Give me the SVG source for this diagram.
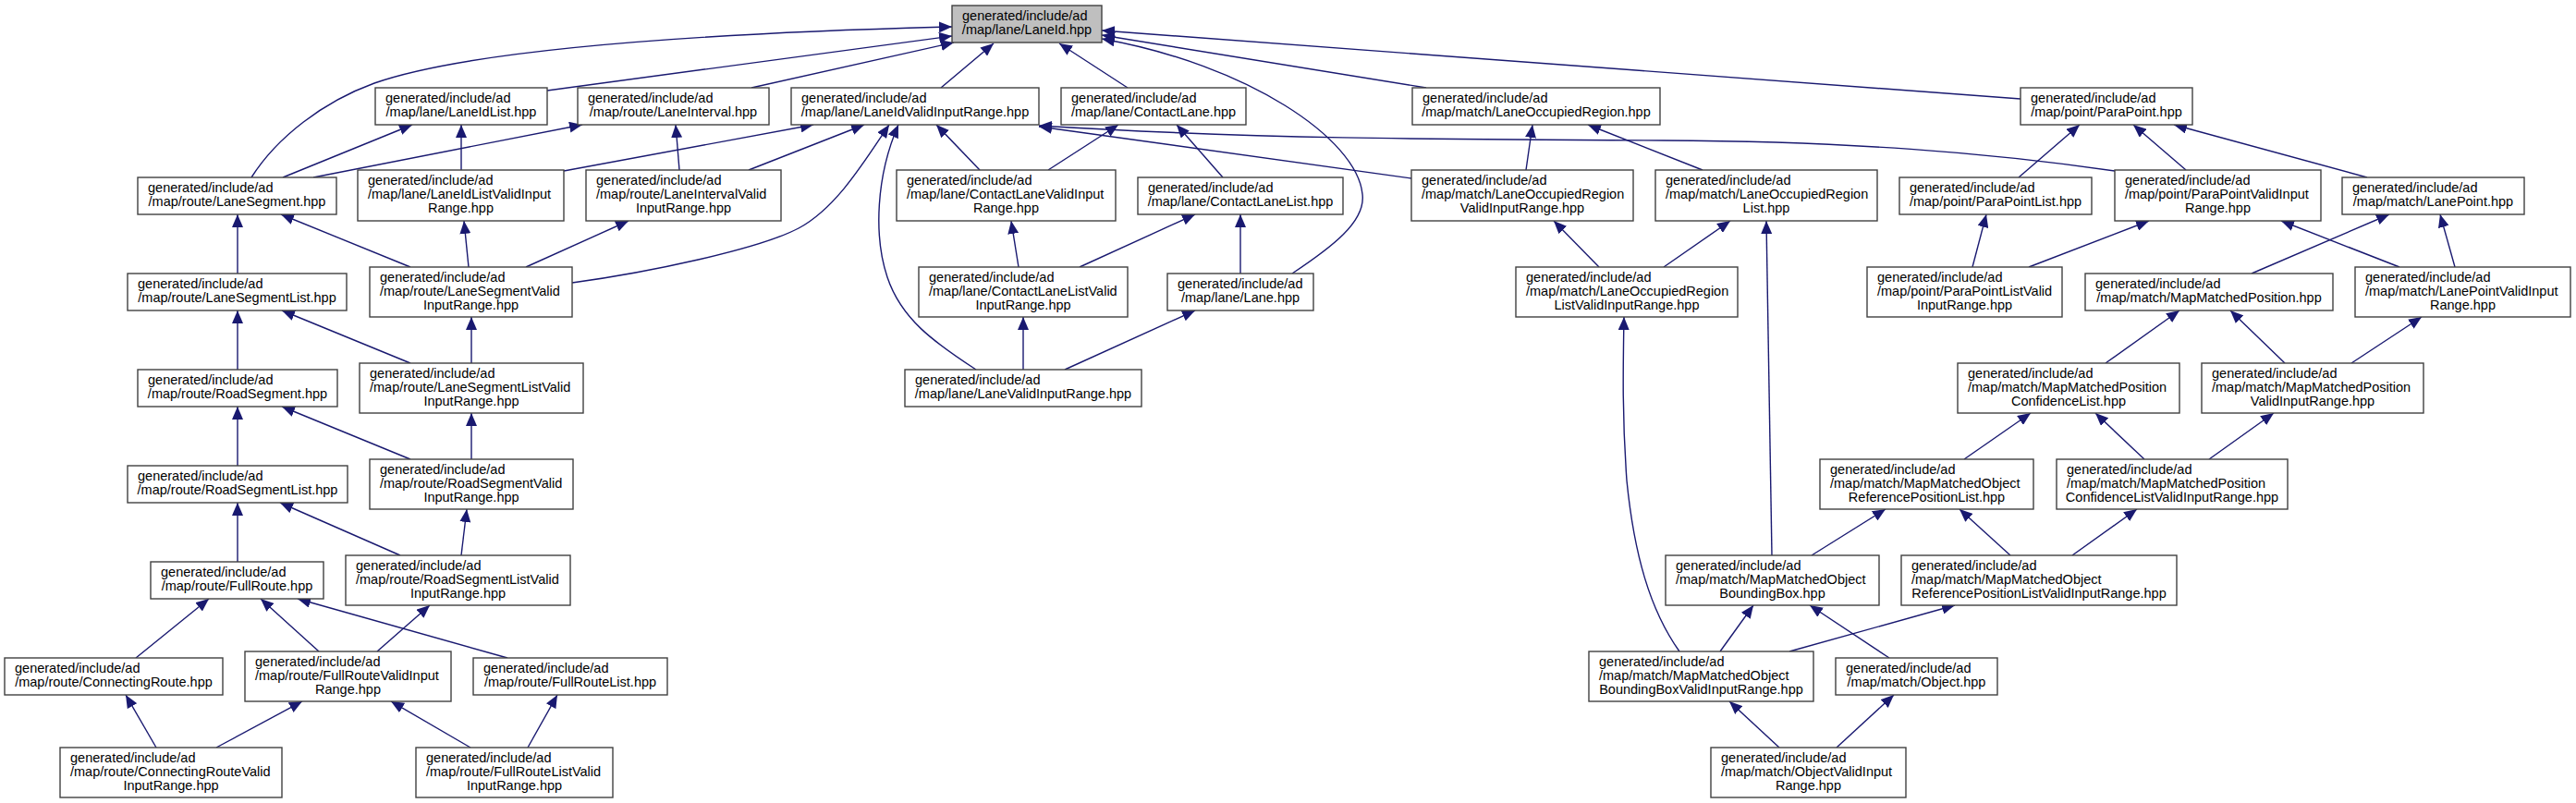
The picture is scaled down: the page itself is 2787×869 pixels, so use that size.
<svg xmlns="http://www.w3.org/2000/svg" width="2787" height="869" viewBox="0 0 2787 869">
<style>
.node rect{fill:#fff;stroke:#404040;stroke-width:1.4}
.main rect{fill:#bfbfbf}
text{font-family:"Liberation Sans",Arial,sans-serif;font-size:14.5px;fill:#000}
.c{text-anchor:middle}
.e{fill:none;stroke:#191970;stroke-width:1.4;marker-end:url(#arr)}
</style>
<defs>
<marker id="arr" markerUnits="userSpaceOnUse" markerWidth="14" markerHeight="12" refX="14" refY="6" orient="auto">
<path d="M0,0 L14,6 L0,12 z" fill="#191970"/>
</marker>
</defs>
<rect width="2787" height="869" fill="#fff"/>
<g id="edges">
<path class="e" d="M272,192 C300,148 350,110 405,90 C520,50 800,35 1030,29"/>
<path class="e" d="M592,98 L1030,39"/>
<path class="e" d="M813,95 L1032,46"/>
<path class="e" d="M1018,95 L1075,47"/>
<path class="e" d="M1220,95 L1146,47"/>
<path class="e" d="M1543,95 L1192,38"/>
<path class="e" d="M2186,107 L1192,33"/>
<path class="e" d="M1398,296 C1440,268 1478,240 1474,210 C1468,150 1350,70 1192,42"/>
<path class="e" d="M306,192 L446,135"/>
<path class="e" d="M499,184 L499,135"/>
<path class="e" d="M339,192 L630,135"/>
<path class="e" d="M735,184 L731,135"/>
<path class="e" d="M610,185 L880,135"/>
<path class="e" d="M810,184 L935,135"/>
<path class="e" d="M619,306 C700,295 820,270 864,247 C905,225 935,175 962,135"/>
<path class="e" d="M1056,400 C1010,370 975,345 960,300 C945,255 948,190 972,135"/>
<path class="e" d="M1060,184 L1013,135"/>
<path class="e" d="M2288,185 C2150,165 2000,153 1800,152 C1550,151 1350,150 1124,136"/>
<path class="e" d="M1527,193 L1124,137"/>
<path class="e" d="M1134,184 L1210,135"/>
<path class="e" d="M1323,192 L1273,135"/>
<path class="e" d="M1651,184 L1658,135"/>
<path class="e" d="M1842,184 L1718,135"/>
<path class="e" d="M2184,192 L2250,135"/>
<path class="e" d="M2365,184 L2308,135"/>
<path class="e" d="M2561,192 L2352,135"/>
<path class="e" d="M257,296 L257,232"/>
<path class="e" d="M444,289 L304,232"/>
<path class="e" d="M507,289 L502,239"/>
<path class="e" d="M569,289 L680,239"/>
<path class="e" d="M1102,289 L1094,239"/>
<path class="e" d="M1168,289 L1293,232"/>
<path class="e" d="M1342,296 L1342,232"/>
<path class="e" d="M1730,289 L1681,239"/>
<path class="e" d="M1800,289 L1872,239"/>
<path class="e" d="M1917,601 L1911,239"/>
<path class="e" d="M2134,289 L2149,232"/>
<path class="e" d="M2195,289 L2325,239"/>
<path class="e" d="M2596,289 L2468,239"/>
<path class="e" d="M2436,296 L2585,232"/>
<path class="e" d="M2656,289 L2640,232"/>
<path class="e" d="M257,400 L257,336"/>
<path class="e" d="M444,393 L305,336"/>
<path class="e" d="M510,393 L510,343"/>
<path class="e" d="M1107,400 L1107,343"/>
<path class="e" d="M1152,400 L1293,336"/>
<path class="e" d="M1817,705 C1785,660 1768,600 1760,520 C1755,450 1756,400 1757,343"/>
<path class="e" d="M2278,393 L2358,336"/>
<path class="e" d="M2472,393 L2413,336"/>
<path class="e" d="M2544,393 L2620,343"/>
<path class="e" d="M257,504 L257,440"/>
<path class="e" d="M444,497 L305,440"/>
<path class="e" d="M510,497 L510,447"/>
<path class="e" d="M2125,497 L2197,447"/>
<path class="e" d="M2320,497 L2267,447"/>
<path class="e" d="M2390,497 L2460,447"/>
<path class="e" d="M257,608 L257,544"/>
<path class="e" d="M433,601 L303,544"/>
<path class="e" d="M499,601 L505,551"/>
<path class="e" d="M1960,601 L2040,551"/>
<path class="e" d="M2175,601 L2120,551"/>
<path class="e" d="M2242,601 L2312,551"/>
<path class="e" d="M147,712 L226,648"/>
<path class="e" d="M345,705 L282,648"/>
<path class="e" d="M549,712 L322,648"/>
<path class="e" d="M408,705 L465,655"/>
<path class="e" d="M1861,705 L1897,655"/>
<path class="e" d="M2044,712 L1958,655"/>
<path class="e" d="M1936,705 L2115,655"/>
<path class="e" d="M169,809 L136,752"/>
<path class="e" d="M234,809 L327,759"/>
<path class="e" d="M509,809 L423,759"/>
<path class="e" d="M571,809 L603,752"/>
<path class="e" d="M1925,809 L1871,759"/>
<path class="e" d="M1987,809 L2049,752"/>
</g>
<g id="n_LaneId" class="node main"><rect x="1030" y="6" width="162" height="40"/><text x="1041" y="22">generated/include/ad</text><text class="c" x="1111" y="37">/map/lane/LaneId.hpp</text></g>
<g id="n_LaneIdList" class="node"><rect x="406" y="95" width="186" height="40"/><text x="417" y="111">generated/include/ad</text><text class="c" x="499" y="126">/map/lane/LaneIdList.hpp</text></g>
<g id="n_LaneInterval" class="node"><rect x="625" y="95" width="207" height="40"/><text x="636" y="111">generated/include/ad</text><text class="c" x="728.5" y="126">/map/route/LaneInterval.hpp</text></g>
<g id="n_LaneIdValidInputRange" class="node"><rect x="856" y="95" width="268" height="40"/><text x="867" y="111">generated/include/ad</text><text class="c" x="990" y="126">/map/lane/LaneIdValidInputRange.hpp</text></g>
<g id="n_ContactLane" class="node"><rect x="1148" y="95" width="200" height="40"/><text x="1159" y="111">generated/include/ad</text><text class="c" x="1248" y="126">/map/lane/ContactLane.hpp</text></g>
<g id="n_LaneOccupiedRegion" class="node"><rect x="1528" y="95" width="268" height="40"/><text x="1539" y="111">generated/include/ad</text><text class="c" x="1662" y="126">/map/match/LaneOccupiedRegion.hpp</text></g>
<g id="n_ParaPoint" class="node"><rect x="2186" y="95" width="186" height="40"/><text x="2197" y="111">generated/include/ad</text><text class="c" x="2279" y="126">/map/point/ParaPoint.hpp</text></g>
<g id="n_LaneSegment" class="node"><rect x="149" y="192" width="215" height="40"/><text x="160" y="208">generated/include/ad</text><text class="c" x="256.5" y="223">/map/route/LaneSegment.hpp</text></g>
<g id="n_LaneIdListValidInputRange" class="node"><rect x="387" y="184" width="223" height="55"/><text x="398" y="200">generated/include/ad</text><text x="398" y="215">/map/lane/LaneIdListValidInput</text><text class="c" x="498.5" y="230">Range.hpp</text></g>
<g id="n_LaneIntervalValidInputRange" class="node"><rect x="634" y="184" width="211" height="55"/><text x="645" y="200">generated/include/ad</text><text x="645" y="215">/map/route/LaneIntervalValid</text><text class="c" x="739.5" y="230">InputRange.hpp</text></g>
<g id="n_ContactLaneValidInputRange" class="node"><rect x="970" y="184" width="237" height="55"/><text x="981" y="200">generated/include/ad</text><text x="981" y="215">/map/lane/ContactLaneValidInput</text><text class="c" x="1088.5" y="230">Range.hpp</text></g>
<g id="n_ContactLaneList" class="node"><rect x="1231" y="192" width="222" height="40"/><text x="1242" y="208">generated/include/ad</text><text class="c" x="1342" y="223">/map/lane/ContactLaneList.hpp</text></g>
<g id="n_LaneOccupiedRegionValidInputRange" class="node"><rect x="1527" y="184" width="240" height="55"/><text x="1538" y="200">generated/include/ad</text><text x="1538" y="215">/map/match/LaneOccupiedRegion</text><text class="c" x="1647" y="230">ValidInputRange.hpp</text></g>
<g id="n_LaneOccupiedRegionList" class="node"><rect x="1791" y="184" width="240" height="55"/><text x="1802" y="200">generated/include/ad</text><text x="1802" y="215">/map/match/LaneOccupiedRegion</text><text class="c" x="1911" y="230">List.hpp</text></g>
<g id="n_ParaPointList" class="node"><rect x="2055" y="192" width="208" height="40"/><text x="2066" y="208">generated/include/ad</text><text class="c" x="2159" y="223">/map/point/ParaPointList.hpp</text></g>
<g id="n_ParaPointValidInputRange" class="node"><rect x="2288" y="184" width="223" height="55"/><text x="2299" y="200">generated/include/ad</text><text x="2299" y="215">/map/point/ParaPointValidInput</text><text class="c" x="2399.5" y="230">Range.hpp</text></g>
<g id="n_LanePoint" class="node"><rect x="2534" y="192" width="197" height="40"/><text x="2545" y="208">generated/include/ad</text><text class="c" x="2632.5" y="223">/map/match/LanePoint.hpp</text></g>
<g id="n_LaneSegmentList" class="node"><rect x="138" y="296" width="237" height="40"/><text x="149" y="312">generated/include/ad</text><text class="c" x="256.5" y="327">/map/route/LaneSegmentList.hpp</text></g>
<g id="n_LaneSegmentValidInputRange" class="node"><rect x="400" y="289" width="219" height="54"/><text x="411" y="305">generated/include/ad</text><text x="411" y="320">/map/route/LaneSegmentValid</text><text class="c" x="509.5" y="335">InputRange.hpp</text></g>
<g id="n_ContactLaneListValidInputRange" class="node"><rect x="994" y="289" width="226" height="54"/><text x="1005" y="305">generated/include/ad</text><text x="1005" y="320">/map/lane/ContactLaneListValid</text><text class="c" x="1107" y="335">InputRange.hpp</text></g>
<g id="n_Lane" class="node"><rect x="1263" y="296" width="158" height="40"/><text x="1274" y="312">generated/include/ad</text><text class="c" x="1342" y="327">/map/lane/Lane.hpp</text></g>
<g id="n_LaneOccupiedRegionListValidInputRange" class="node"><rect x="1640" y="289" width="240" height="54"/><text x="1651" y="305">generated/include/ad</text><text x="1651" y="320">/map/match/LaneOccupiedRegion</text><text class="c" x="1760" y="335">ListValidInputRange.hpp</text></g>
<g id="n_ParaPointListValidInputRange" class="node"><rect x="2020" y="289" width="211" height="54"/><text x="2031" y="305">generated/include/ad</text><text x="2031" y="320">/map/point/ParaPointListValid</text><text class="c" x="2125.5" y="335">InputRange.hpp</text></g>
<g id="n_MapMatchedPosition" class="node"><rect x="2256" y="296" width="268" height="40"/><text x="2267" y="312">generated/include/ad</text><text class="c" x="2390" y="327">/map/match/MapMatchedPosition.hpp</text></g>
<g id="n_LanePointValidInputRange" class="node"><rect x="2548" y="289" width="233" height="54"/><text x="2559" y="305">generated/include/ad</text><text x="2559" y="320">/map/match/LanePointValidInput</text><text class="c" x="2664.5" y="335">Range.hpp</text></g>
<g id="n_RoadSegment" class="node"><rect x="149" y="400" width="216" height="40"/><text x="160" y="416">generated/include/ad</text><text class="c" x="257" y="431">/map/route/RoadSegment.hpp</text></g>
<g id="n_LaneSegmentListValidInputRange" class="node"><rect x="389" y="393" width="242" height="54"/><text x="400" y="409">generated/include/ad</text><text x="400" y="424">/map/route/LaneSegmentListValid</text><text class="c" x="510" y="439">InputRange.hpp</text></g>
<g id="n_LaneValidInputRange" class="node"><rect x="979" y="400" width="256" height="40"/><text x="990" y="416">generated/include/ad</text><text class="c" x="1107" y="431">/map/lane/LaneValidInputRange.hpp</text></g>
<g id="n_MapMatchedPositionConfidenceList" class="node"><rect x="2118" y="393" width="240" height="54"/><text x="2129" y="409">generated/include/ad</text><text x="2129" y="424">/map/match/MapMatchedPosition</text><text class="c" x="2238" y="439">ConfidenceList.hpp</text></g>
<g id="n_MapMatchedPositionValidInputRange" class="node"><rect x="2382" y="393" width="240" height="54"/><text x="2393" y="409">generated/include/ad</text><text x="2393" y="424">/map/match/MapMatchedPosition</text><text class="c" x="2502" y="439">ValidInputRange.hpp</text></g>
<g id="n_RoadSegmentList" class="node"><rect x="138" y="504" width="238" height="40"/><text x="149" y="520">generated/include/ad</text><text class="c" x="257" y="535">/map/route/RoadSegmentList.hpp</text></g>
<g id="n_RoadSegmentValidInputRange" class="node"><rect x="400" y="497" width="220" height="54"/><text x="411" y="513">generated/include/ad</text><text x="411" y="528">/map/route/RoadSegmentValid</text><text class="c" x="510" y="543">InputRange.hpp</text></g>
<g id="n_MapMatchedObjectReferencePositionList" class="node"><rect x="1969" y="497" width="231" height="54"/><text x="1980" y="513">generated/include/ad</text><text x="1980" y="528">/map/match/MapMatchedObject</text><text class="c" x="2084.5" y="543">ReferencePositionList.hpp</text></g>
<g id="n_MapMatchedPositionConfidenceListValidInputRange" class="node"><rect x="2225" y="497" width="250" height="54"/><text x="2236" y="513">generated/include/ad</text><text x="2236" y="528">/map/match/MapMatchedPosition</text><text class="c" x="2350" y="543">ConfidenceListValidInputRange.hpp</text></g>
<g id="n_FullRoute" class="node"><rect x="163" y="608" width="187" height="40"/><text x="174" y="624">generated/include/ad</text><text class="c" x="256.5" y="639">/map/route/FullRoute.hpp</text></g>
<g id="n_RoadSegmentListValidInputRange" class="node"><rect x="374" y="601" width="243" height="54"/><text x="385" y="617">generated/include/ad</text><text x="385" y="632">/map/route/RoadSegmentListValid</text><text class="c" x="495.5" y="647">InputRange.hpp</text></g>
<g id="n_MapMatchedObjectBoundingBox" class="node"><rect x="1802" y="601" width="231" height="54"/><text x="1813" y="617">generated/include/ad</text><text x="1813" y="632">/map/match/MapMatchedObject</text><text class="c" x="1917.5" y="647">BoundingBox.hpp</text></g>
<g id="n_MapMatchedObjectReferencePositionListValidInputRange" class="node"><rect x="2057" y="601" width="298" height="54"/><text x="2068" y="617">generated/include/ad</text><text x="2068" y="632">/map/match/MapMatchedObject</text><text class="c" x="2206" y="647">ReferencePositionListValidInputRange.hpp</text></g>
<g id="n_ConnectingRoute" class="node"><rect x="5" y="712" width="236" height="40"/><text x="16" y="728">generated/include/ad</text><text class="c" x="123" y="743">/map/route/ConnectingRoute.hpp</text></g>
<g id="n_FullRouteValidInputRange" class="node"><rect x="265" y="705" width="223" height="54"/><text x="276" y="721">generated/include/ad</text><text x="276" y="736">/map/route/FullRouteValidInput</text><text class="c" x="376.5" y="751">Range.hpp</text></g>
<g id="n_FullRouteList" class="node"><rect x="512" y="712" width="210" height="40"/><text x="523" y="728">generated/include/ad</text><text class="c" x="617" y="743">/map/route/FullRouteList.hpp</text></g>
<g id="n_MapMatchedObjectBoundingBoxValidInputRange" class="node"><rect x="1719" y="705" width="243" height="54"/><text x="1730" y="721">generated/include/ad</text><text x="1730" y="736">/map/match/MapMatchedObject</text><text class="c" x="1840.5" y="751">BoundingBoxValidInputRange.hpp</text></g>
<g id="n_Object" class="node"><rect x="1986" y="712" width="175" height="40"/><text x="1997" y="728">generated/include/ad</text><text class="c" x="2073.5" y="743">/map/match/Object.hpp</text></g>
<g id="n_ConnectingRouteValidInputRange" class="node"><rect x="65" y="809" width="240" height="54"/><text x="76" y="825">generated/include/ad</text><text x="76" y="840">/map/route/ConnectingRouteValid</text><text class="c" x="185" y="855">InputRange.hpp</text></g>
<g id="n_FullRouteListValidInputRange" class="node"><rect x="450" y="809" width="213" height="54"/><text x="461" y="825">generated/include/ad</text><text x="461" y="840">/map/route/FullRouteListValid</text><text class="c" x="556.5" y="855">InputRange.hpp</text></g>
<g id="n_ObjectValidInputRange" class="node"><rect x="1851" y="809" width="211" height="54"/><text x="1862" y="825">generated/include/ad</text><text x="1862" y="840">/map/match/ObjectValidInput</text><text class="c" x="1956.5" y="855">Range.hpp</text></g>
</svg>
